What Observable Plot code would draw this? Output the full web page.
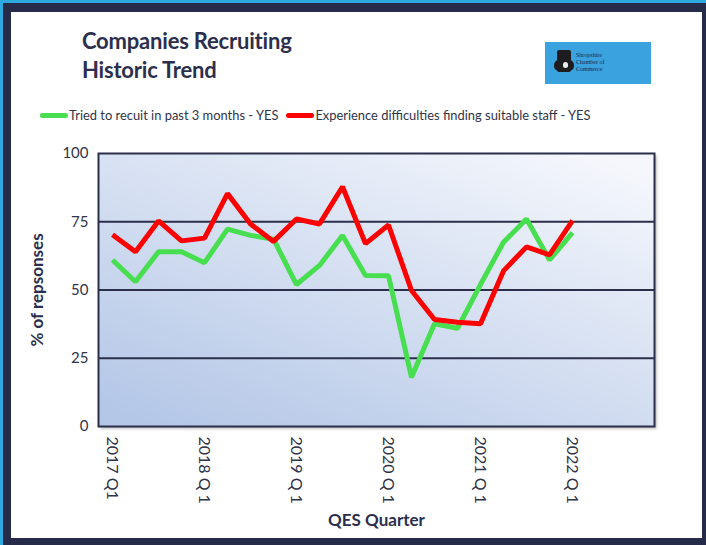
<!DOCTYPE html>
<html>
<head>
<meta charset="utf-8">
<script src="https://cdn.jsdelivr.net/npm/d3@7"></script>
<script src="https://cdn.jsdelivr.net/npm/@observablehq/plot@0.6"></script>
<style>
  html, body { margin: 0; padding: 0; }
  body { width: 706px; height: 545px; overflow: hidden; font-family: Lato, "Open Sans", sans-serif; }
  #page { position: relative; width: 706px; height: 545px; background: #2ea9df; }
  #navy { position: absolute; left: 3px; top: 3px; right: 0; bottom: 0; background: #272b4a; }
  #panel { position: absolute; left: 11px; top: 12px; width: 691px; height: 526px; background: #ffffff; }
  #title { position: absolute; left: 82px; top: 26px; font-weight: 700; font-size: 22px; line-height: 29px; color: #2b2f4d; letter-spacing: -0.2px; }
  #logo { position: absolute; left: 545px; top: 42px; width: 106px; height: 42px; background: #3aa2de; }
  #logo .mark { position: absolute; left: 12px; top: 8px; width: 14px; height: 22px; background: #1d1d1f; border-radius: 2px; }
  #logo .mark2 { position: absolute; left: 9px; top: 18px; width: 20px; height: 11px; background: #1d1d1f; border-radius: 5px; }
  #logo .dot { position: absolute; left: 18px; top: 20px; width: 5px; height: 6px; background: #e8eef0; border-radius: 3px; }
  #logo .txt { position: absolute; left: 31px; top: 10px; font-size: 6px; line-height: 7px; color: #1e2a44; font-family: "Liberation Serif", serif; }
  #legend { position: absolute; left: 40px; top: 107px; font-size: 12.9px; color: #2f3447; display: flex; align-items: center; white-space: nowrap; }
  #legend .sw { display: inline-block; width: 28px; height: 5px; border-radius: 3px; margin-right: 1px; }
  #legend .item { display: flex; align-items: center; margin-right: 8px; }
  #chart { position: absolute; left: 0; top: 140px; }
  #chart svg { overflow: visible; }
</style>
</head>
<body>
<div id="page">
  <div id="navy"></div>
  <div id="panel"></div>
  <div id="title">Companies Recruiting<br>Historic Trend</div>
  <div id="logo"><div class="mark"></div><div class="mark2"></div><div class="dot"></div><div class="txt">Shropshire<br>Chamber of<br>Commerce</div></div>
  <div id="legend"></div>
  <div id="chart"></div>
</div>
<script>
// ---- data ----
const quarters = [
  "2017 Q1","2017 Q2","2017 Q3","2017 Q4",
  "2018 Q1","2018 Q2","2018 Q3","2018 Q4",
  "2019 Q1","2019 Q2","2019 Q3","2019 Q4",
  "2020 Q1","2020 Q2","2020 Q3","2020 Q4",
  "2021 Q1","2021 Q2","2021 Q3","2021 Q4",
  "2022 Q1","2022 Q2","2022 Q3","2022 Q4"
];
const triedToRecruit = [61, 53, 64, 64, 60, 72.3, 70, 68.6, 52, 59, 70, 55.3, 55.2, 18, 37.6, 36, 52, 67.5, 76, 61, 71];
const difficulties   = [70.2, 64, 75.3, 68, 69, 85.3, 74.2, 67.8, 76, 74.2, 87.8, 67, 73.8, 49.8, 39.2, 38.2, 37.6, 57, 65.8, 62.9, 75.4];
const tickQuarters = ["2017 Q1","2018 Q1","2019 Q1","2020 Q1","2021 Q1","2022 Q1"];
const tickLabels   = ["2017 Q1","2018 Q 1","2019 Q 1","2020 Q 1","2021 Q 1","2022 Q 1"];
const yTicks = [0, 25, 50, 75, 100];
const seriesNames = ["Tried to recuit in past 3 months - YES", "Experience difficulties finding suitable staff - YES"];
const seriesColors = ["#47de4f", "#ff0000"];

// ---- tables ----
const greenData = triedToRecruit.map((v, i) => ({q: quarters[i], v}));
const redData = difficulties.map((v, i) => ({q: quarters[i], v}));

// legend
const legend = document.getElementById("legend");
seriesNames.forEach((name, i) => {
  const item = document.createElement("div");
  item.className = "item";
  const sw = document.createElement("span");
  sw.className = "sw";
  sw.style.background = seriesColors[i];
  item.appendChild(sw);
  item.appendChild(document.createTextNode(name));
  legend.appendChild(item);
});

const defs = () => {
  const d = d3.create("svg:defs");
  const g = d.append("linearGradient").attr("id", "bgGrad")
    .attr("x1", "0.1").attr("y1", "1").attr("x2", "0.9").attr("y2", "0");
  g.append("stop").attr("offset", "0%").attr("stop-color", "#b4c7e7");
  g.append("stop").attr("offset", "100%").attr("stop-color", "#f5f7fc");
  const f = d.append("filter").attr("id", "shadow").attr("x", "-5%").attr("y", "-5%").attr("width", "110%").attr("height", "110%");
  f.append("feDropShadow").attr("dx", 2).attr("dy", 2).attr("stdDeviation", 1.5).attr("flood-color", "#000").attr("flood-opacity", 0.3);
  return d.node();
};

const labelMap = new Map(tickQuarters.map((q, i) => [q, tickLabels[i]]));

const chart = Plot.plot({
  width: 706,
  height: 398,
  marginLeft: 98,
  marginRight: 52,
  marginTop: 13,
  marginBottom: 112,
  style: {fontFamily: "Lato, 'Open Sans', sans-serif", fontSize: "15px", color: "#2f3447", background: "transparent", overflow: "visible"},
  x: {type: "point", domain: quarters, padding: 0.5},
  y: {domain: [0, 100]},
  marks: [
    defs,
    Plot.frame({fill: "url(#bgGrad)"}),
    Plot.ruleY([25, 50, 75], {stroke: "#2b2f4a", strokeWidth: 2}),
    Plot.axisX({ticks: tickQuarters, tickFormat: d => labelMap.get(d), tickRotate: 90, tickSize: 0, tickPadding: 10,
      label: "QES Quarter", labelAnchor: "center", labelOffset: 99, fontSize: 16}),
    Plot.axisY({ticks: yTicks, tickSize: 0, tickPadding: 10, label: "% of repsonses", labelAnchor: "center", labelOffset: 68, labelArrow: "none"}),
    Plot.line(greenData, {x: "q", y: "v", stroke: seriesColors[0], strokeWidth: 5, strokeLinejoin: "miter", strokeLinecap: "butt"}),
    Plot.line(redData, {x: "q", y: "v", stroke: seriesColors[1], strokeWidth: 5, strokeLinejoin: "miter", strokeLinecap: "butt"}),
    Plot.frame({stroke: "#2b2f4a", strokeWidth: 2})
  ]
});
document.getElementById("chart").appendChild(chart);

// styling tweaks
const svg = d3.select(chart);
const frames = svg.selectAll('[aria-label="frame"]');
frames.filter((d, i) => i === 0).attr("filter", "url(#shadow)");
svg.selectAll('[aria-label="x-axis label"] text, [aria-label="y-axis label"] text')
  .attr("font-weight", 700).attr("fill", "#2b2f4d").attr("font-size", 17);
</script>
</body>
</html>
